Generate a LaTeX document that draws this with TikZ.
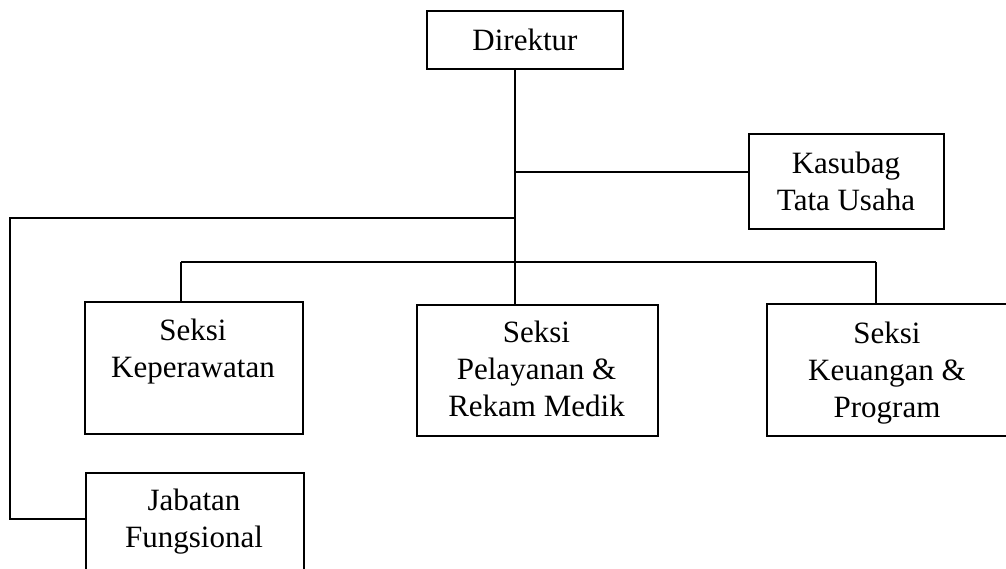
\documentclass[tikz,border=0pt]{standalone}
\usepackage{fontspec}
\setmainfont{Liberation Serif}
\begin{document}
\begin{tikzpicture}[x=1pt,y=1pt,
  box/.style={draw, line width=1.9pt, inner sep=0pt, anchor=north west},
  lbl/.style={font=\fontsize{31}{37}\selectfont, align=center, inner sep=0pt, anchor=north},
  conn/.style={line width=1.9pt}]
\useasboundingbox (0,0) rectangle (1006,-568);
% boxes
\node[box, minimum width=196, minimum height=58] (dir) at (426,-10) {};
\node[box, minimum width=195, minimum height=95] (kas) at (748,-133) {};
\node[box, minimum width=218, minimum height=132] (kep) at (84,-301) {};
\node[box, minimum width=241, minimum height=131] (pel) at (416,-304) {};
\node[box, minimum width=242, minimum height=132] (keu) at (766,-303) {};
\node[box, minimum width=218, minimum height=130] (jab) at (85,-472) {};
% labels
\node[lbl, anchor=center] (tdir) at (dir.center) {Direktur};
\node[lbl] (tkas) at (846,-152) {Kasubag\\Tata Usaha};
\node[lbl] (tkep) at (193,-319) {Seksi\\Keperawatan};
\node[lbl] (tpel) at (536.5,-321) {Seksi\\Pelayanan \&\\Rekam Medik};
\node[lbl] (tkeu) at (887,-322) {Seksi\\Keuangan \&\\Program};
\node[lbl] (tjab) at (194,-489) {Jabatan\\Fungsional};
% junction coordinates
\coordinate (top) at (515,-68);
\coordinate (jk) at (515,-172);
\coordinate (jl) at (515,-218);
\coordinate (corner) at (10,-218);
\coordinate (corner2) at (10,-519);
\coordinate (hb) at (515,-262);
\coordinate (hl) at (181,-262);
\coordinate (hr) at (876,-262);
% connectors
\draw[conn] (top) -- (top |- pel.north);
\draw[conn] (jk) -- (jk -| kas.west);
\draw[conn] (jl) -- (corner) -- (corner2) -- (corner2 -| jab.west);
\draw[conn] (hl) -- (hr);
\draw[conn] (hl) -- (hl |- kep.north);
\draw[conn] (hr) -- (hr |- keu.north);
\end{tikzpicture}
\end{document}
